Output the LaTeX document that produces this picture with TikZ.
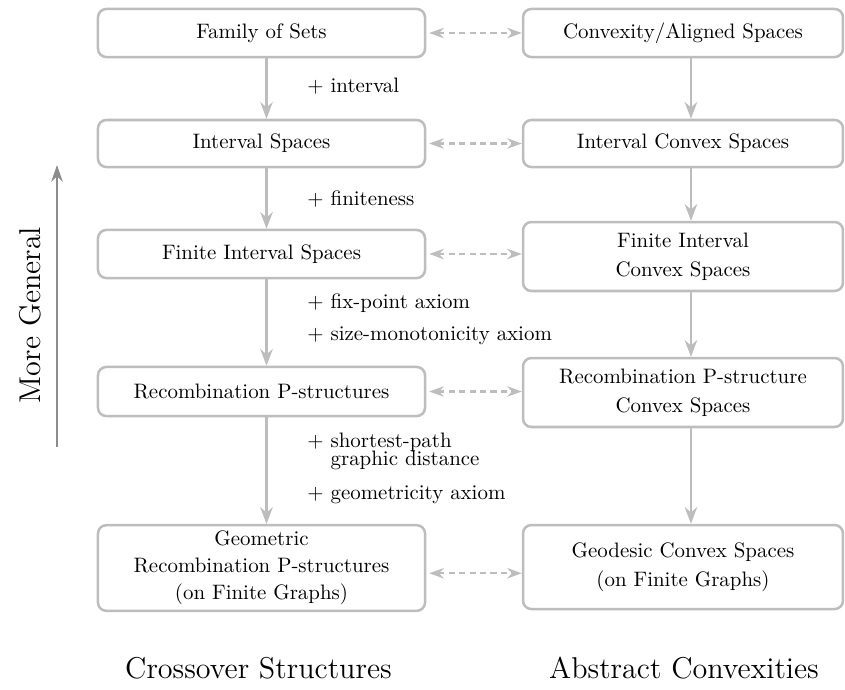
\documentclass[tikz,border=0pt]{standalone}
\usetikzlibrary{arrows.meta}
\definecolor{boxgray}{RGB}{189,189,189}
\definecolor{axisgray}{RGB}{140,140,140}
\begin{document}
\begin{tikzpicture}[x=0.4785pt, y=-0.4785pt,
  box/.style={draw=boxgray, line width=1.2pt, rounded corners=4pt, fill=white,
    align=center, inner sep=2pt},
  lbox/.style={box, minimum width=156.5pt},
  rbox/.style={box, minimum width=153.1pt},
  flow/.style={draw=boxgray, line width=1.1pt, -{Stealth[length=8pt,width=6pt]}},
  link/.style={draw=boxgray, line width=1pt, dash pattern=on 3pt off 2pt,
    {Stealth[length=7pt,width=5pt]}-{Stealth[length=7pt,width=5pt]}},
  note/.style={anchor=west, inner sep=0pt, align=left},
  axisarrow/.style={draw=axisgray, line width=1.2pt, -{Stealth[length=8pt,width=5.5pt]}}
]
\useasboundingbox (0,0) rectangle (845,689);

% crossover structures (left column)
\node[lbox, minimum height=23pt]   (L1) at (261.5,33)    {Family of Sets};
\node[lbox, minimum height=22.5pt] (L2) at (261.5,143.5) {Interval Spaces};
\node[lbox, minimum height=23pt]   (L3) at (261.5,254)   {Finite Interval Spaces};
\node[lbox, minimum height=23.5pt] (L4) at (261.5,391.5) {Recombination P-structures};
\node[lbox, minimum height=41pt]   (L5) at (261.5,568)
  {Geometric\\[1pt]Recombination P-structures\\[1pt](on Finite Graphs)};

% abstract convexities (right column)
\node[rbox, minimum height=23pt]   (R1) at (683,33)    {Convexity/Aligned Spaces};
\node[rbox, minimum height=22.5pt] (R2) at (683,143.5) {Interval Convex Spaces};
\node[rbox, minimum height=33pt]   (R3) at (683,256.5) {Finite Interval\\[2pt]Convex Spaces};
\node[rbox, minimum height=33pt]   (R4) at (683,392.5) {Recombination P-structure\\[2pt]Convex Spaces};
\node[rbox, minimum height=40.2pt] (R5) at (683,567)   {Geodesic Convex Spaces\\[2pt](on Finite Graphs)};

% refinement arrows
\foreach \a/\b in {L1/L2, L2/L3, L3/L4, L4/L5}
  \draw[flow] ([xshift=2.4pt]\a.south) -- ([xshift=2.4pt]\b.north);
\foreach \a/\b in {R1/R2, R2/R3, R3/R4, R4/R5}
  \draw[flow] ([xshift=3.8pt]\a.south) -- ([xshift=3.8pt]\b.north);

% correspondences
\foreach \a/\b in {L1/R1, L2/R2, L3/R3, L4/R4}
  \draw[link, shorten <=1.4pt] (\a.east) -- (\a.east -| \b.west);
\path ([yshift=-2.5pt]L5.east) coordinate (d5);
\draw[link, shorten <=1.4pt] (d5) -- (d5 -| R5.west);

% added properties
\node[note] (n1) at (307,86)  {$+$ interval};
\node[note] (n2) at (307,199) {$+$ finiteness};
\node[note] (n3) at (307,303) {$+$ fix-point axiom};
\node[note] (n4) at (307,336) {$+$ size-monotonicity axiom};
\node[note] (n5) at (307,451) {$+$ shortest-path\\[-3.4pt]\phantom{$+$} graphic distance};
\node[note] (n6) at (307,495) {$+$ geometricity axiom};

% column titles
\node[font=\Large] (c1) at (258.5,668) {Crossover Structures};
\node[font=\Large] (c2) at (684,668)   {Abstract Convexities};

% generality axis
\node[font=\Large, rotate=90] (mg) at (30,315) {More General};
\coordinate (gb) at (57,447);
\coordinate (gt) at (57,165);
\draw[axisarrow] (gb) -- (gt);
\end{tikzpicture}
\end{document}
